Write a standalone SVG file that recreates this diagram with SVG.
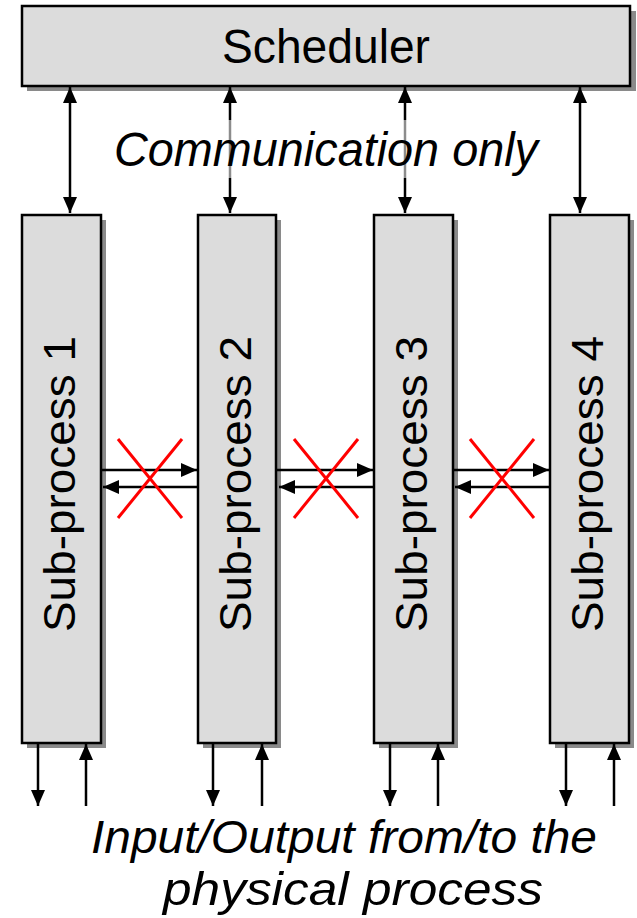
<svg xmlns="http://www.w3.org/2000/svg" width="637" height="918" viewBox="0 0 637 918">
  <style>
    .box { fill: #dcdcdc; stroke: #000; stroke-width: 2.5; }
    .shadow { fill: #8a8a8a; }
    .lbl { font-family: "Liberation Sans", Arial, sans-serif; fill: #000; }
    .it { font-style: italic; }
    .sp { font-size: 45px; text-anchor: middle; }
    .wire { stroke: #000; stroke-width: 2.5; fill: none; }
    .cross { stroke: #ff0000; stroke-width: 3; }
  </style>
  <defs>
    <marker id="ah" viewBox="0 0 16 14" refX="16" refY="7" markerWidth="16" markerHeight="14" markerUnits="userSpaceOnUse" orient="auto-start-reverse">
      <path d="M0,0 L16,7 L0,14 Z" fill="#000"/>
    </marker>
  </defs>

  <rect width="637" height="918" fill="#fff"/>

  <!-- scheduler -->
  <g id="scheduler">
    <rect class="shadow" x="27" y="11" width="609" height="80"/>
    <rect class="box" x="22" y="6" width="608" height="80"/>
    <text class="lbl" x="326" y="63" font-size="48" text-anchor="middle" textLength="208" lengthAdjust="spacingAndGlyphs">Scheduler</text>
  </g>

  <!-- sub-processes -->
  <g id="sub1">
    <rect class="shadow" x="27" y="220" width="79" height="528"/>
    <rect class="box" x="22" y="215" width="79" height="528"/>
    <text class="lbl sp" transform="translate(75,484) rotate(-90)" textLength="296" lengthAdjust="spacingAndGlyphs">Sub-process 1</text>
  </g>
  <g id="sub2">
    <rect class="shadow" x="203" y="220" width="78" height="528"/>
    <rect class="box" x="198" y="215" width="78" height="528"/>
    <text class="lbl sp" transform="translate(251,484) rotate(-90)" textLength="296" lengthAdjust="spacingAndGlyphs">Sub-process 2</text>
  </g>
  <g id="sub3">
    <rect class="shadow" x="379" y="220" width="79" height="528"/>
    <rect class="box" x="374" y="215" width="79" height="528"/>
    <text class="lbl sp" transform="translate(427,484) rotate(-90)" textLength="296" lengthAdjust="spacingAndGlyphs">Sub-process 3</text>
  </g>
  <g id="sub4">
    <rect class="shadow" x="555" y="220" width="79" height="528"/>
    <rect class="box" x="550" y="215" width="79" height="528"/>
    <text class="lbl sp" transform="translate(603,484) rotate(-90)" textLength="296" lengthAdjust="spacingAndGlyphs">Sub-process 4</text>
  </g>

  <!-- connectors -->
  <g id="connectors">
    <!-- scheduler <-> sub-processes -->
    <line class="wire" x1="70" y1="87" x2="70" y2="213" marker-start="url(#ah)" marker-end="url(#ah)"/>
    <line class="wire" x1="230" y1="87" x2="230" y2="213" marker-start="url(#ah)" marker-end="url(#ah)"/>
    <line class="wire" x1="405" y1="87" x2="405" y2="213" marker-start="url(#ah)" marker-end="url(#ah)"/>
    <line class="wire" x1="580" y1="87" x2="580" y2="213" marker-start="url(#ah)" marker-end="url(#ah)"/>

    <!-- forbidden direct links between neighbours -->
    <line class="wire" x1="101" y1="470" x2="197" y2="470" marker-end="url(#ah)"/>
    <line class="wire" x1="198" y1="487" x2="103" y2="487" marker-end="url(#ah)"/>
    <line class="wire" x1="276" y1="470" x2="373" y2="470" marker-end="url(#ah)"/>
    <line class="wire" x1="374" y1="487" x2="279" y2="487" marker-end="url(#ah)"/>
    <line class="wire" x1="453" y1="470" x2="549" y2="470" marker-end="url(#ah)"/>
    <line class="wire" x1="550" y1="487" x2="455" y2="487" marker-end="url(#ah)"/>

    <line class="cross" x1="118" y1="439" x2="182" y2="518"/>
    <line class="cross" x1="182" y1="439" x2="118" y2="518"/>
    <line class="cross" x1="294" y1="439" x2="358" y2="518"/>
    <line class="cross" x1="358" y1="439" x2="294" y2="518"/>
    <line class="cross" x1="470" y1="439" x2="534" y2="518"/>
    <line class="cross" x1="534" y1="439" x2="470" y2="518"/>

    <!-- process I/O -->
    <line class="wire" x1="38" y1="744" x2="38" y2="806" marker-end="url(#ah)"/>
    <line class="wire" x1="86" y1="806" x2="86" y2="744" marker-end="url(#ah)"/>
    <line class="wire" x1="213" y1="744" x2="213" y2="806" marker-end="url(#ah)"/>
    <line class="wire" x1="262" y1="806" x2="262" y2="744" marker-end="url(#ah)"/>
    <line class="wire" x1="390" y1="744" x2="390" y2="806" marker-end="url(#ah)"/>
    <line class="wire" x1="438" y1="806" x2="438" y2="744" marker-end="url(#ah)"/>
    <line class="wire" x1="566" y1="744" x2="566" y2="806" marker-end="url(#ah)"/>
    <line class="wire" x1="614" y1="806" x2="614" y2="744" marker-end="url(#ah)"/>
  </g>

  <!-- captions -->
  <g id="caption-comm">
    <rect x="105" y="120" width="445" height="58" fill="#fff" fill-opacity="0.55"/>
    <text class="lbl it" x="326" y="166" font-size="48" text-anchor="middle" textLength="424" lengthAdjust="spacingAndGlyphs">Communication only</text>
  </g>
  <g id="caption-io">
    <text class="lbl it" x="344" y="853" font-size="46" text-anchor="middle" textLength="506" lengthAdjust="spacingAndGlyphs">Input/Output from/to the</text>
    <text class="lbl it" x="353" y="905" font-size="46" text-anchor="middle" textLength="380" lengthAdjust="spacingAndGlyphs">physical process</text>
  </g>
</svg>
